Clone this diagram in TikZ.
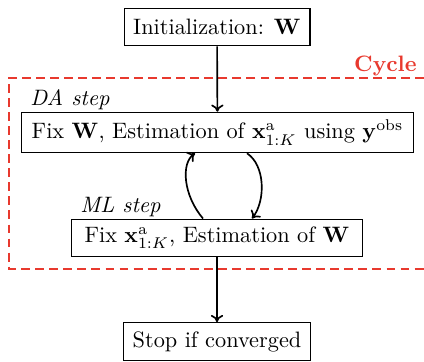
\documentclass[tikz,border=0pt]{standalone}
\usetikzlibrary{arrows.meta}
\definecolor{cyclered}{RGB}{232,57,46}
\begin{document}
\begin{tikzpicture}[x=0.4484pt,y=-0.4484pt,
  box/.style={draw,line width=0.45pt,rectangle,inner sep=2pt,anchor=center},
  arr/.style={line width=0.75pt,-{To[length=3.2pt,width=5.5pt]}},
  lab/.style={font=\itshape,anchor=base west,inner sep=0pt}]
\useasboundingbox (0,0) rectangle (424,361);
\node[box,minimum width=83.4pt,minimum height=17pt] (init) at (217,27) {Initialization: $\mathbf{W}$};
\node[box,minimum width=176.2pt,minimum height=18.2pt] (da) at (217.5,132.5) {Fix $\mathbf{W}$, Estimation of $\mathbf{x}^{\mathrm{a}}_{1:K}$ using $\mathbf{y}^{\mathrm{obs}}$};
\node[box,minimum width=130.9pt,minimum height=17pt] (ml) at (217,238) {Fix $\mathbf{x}^{\mathrm{a}}_{1:K}$, Estimation of $\mathbf{W}$};
\node[box,minimum width=83.9pt,minimum height=17pt] (stop) at (217,341.5) {Stop if converged};
\node[lab] (dal) at (30,105) {DA step};
\node[lab] (mll) at (80,212) {ML step};
\node[anchor=base east,inner sep=0pt,text=cyclered,font=\bfseries] (cyc) at (417,71) {Cycle};
\coordinate (tr) at (424,77.5);
\coordinate (br) at (424,268.5);
\draw[cyclered,line width=0.9pt,dash pattern=on 4pt off 2.3pt] (tr) -- (9,77.5) -- (9,268.5) -- (br);
\draw[arr] (init) -- (da);
\draw[arr] (ml) -- (stop);
\draw[arr] (203,0 |- ml.north) .. controls (183,195) and (181,163) .. (195,0 |- da.south);
\draw[arr] (247,0 |- da.south) .. controls (265,165) and (266,200) .. (252,0 |- ml.north);
\end{tikzpicture}
\end{document}
